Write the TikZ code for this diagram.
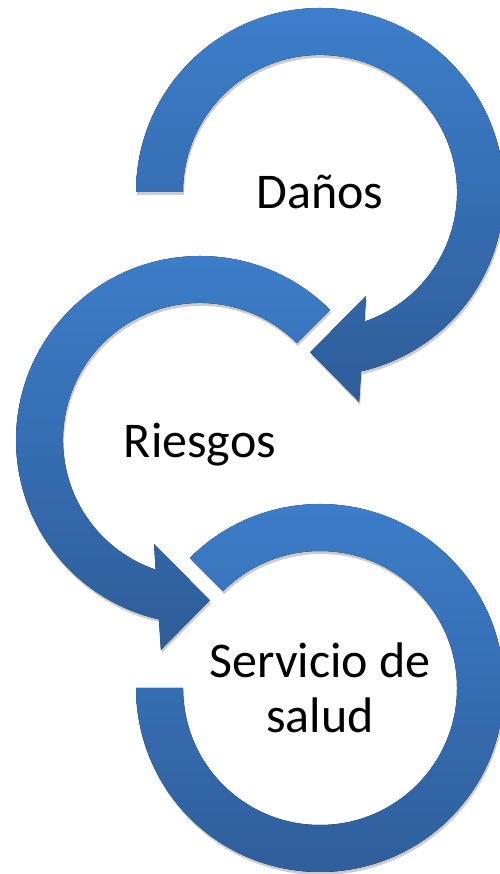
\documentclass[tikz,border=0pt]{standalone}
\usepackage{fontspec}
\setmainfont{Carlito}
\usetikzlibrary{positioning,shadows,backgrounds}

\definecolor{ringtop}{HTML}{3D7ECB}
\definecolor{ringbottom}{HTML}{2E5D99}

\tikzset{
  ring/.style={top color=ringtop, bottom color=ringbottom,
    drop shadow={shadow xshift=1pt, shadow yshift=-3pt, opacity=.2, fill=black}},
  caption/.style={font=\fontsize{50}{55}\selectfont, align=center, inner sep=0pt}
}

\begin{document}
\begin{tikzpicture}[x=1pt,y=1pt,node distance=3cm,on grid]
\useasboundingbox (0,0) rectangle (499,874);
\node[caption] (danos) at (320,682) {Daños};
\node[caption,text depth=0pt] (riesgos) [below left=248pt and 120pt of danos] {Riesgos};
\node[caption] (salud) [below right=248pt and 120pt of riesgos] {Servicio de\\salud};

\begin{scope}[on background layer]
% Daños
\begin{scope}[shift={(danos.center)}]
\fill[ring] (180:137) -- (180:184) arc[start angle=180, end angle=-77.1, radius=184]
  -- (39.1,-209.9) -- (-9.8,-160.2) -- (45.9,-104.1)
  -- (-71.1:137) arc[start angle=-71.1, end angle=180, radius=137] -- cycle;
\end{scope}
% Riesgos
\begin{scope}[shift={(riesgos.center)}]
\fill[ring] (45:137) -- (45:184) arc[start angle=45, end angle=257.1, radius=184]
  -- (-39.1,-209.9) -- (9.8,-160.2) -- (-45.9,-104.1)
  -- (251.1:137) arc[start angle=251.1, end angle=45, radius=137] -- cycle;
\end{scope}
% Servicio de salud
\begin{scope}[shift={(salud.center)}]
\fill[ring] (135:137) -- (135:184) arc[start angle=135, end angle=-180, radius=184]
  -- (-180:137) arc[start angle=-180, end angle=135, radius=137] -- cycle;
\end{scope}
\end{scope}
\end{tikzpicture}
\end{document}
